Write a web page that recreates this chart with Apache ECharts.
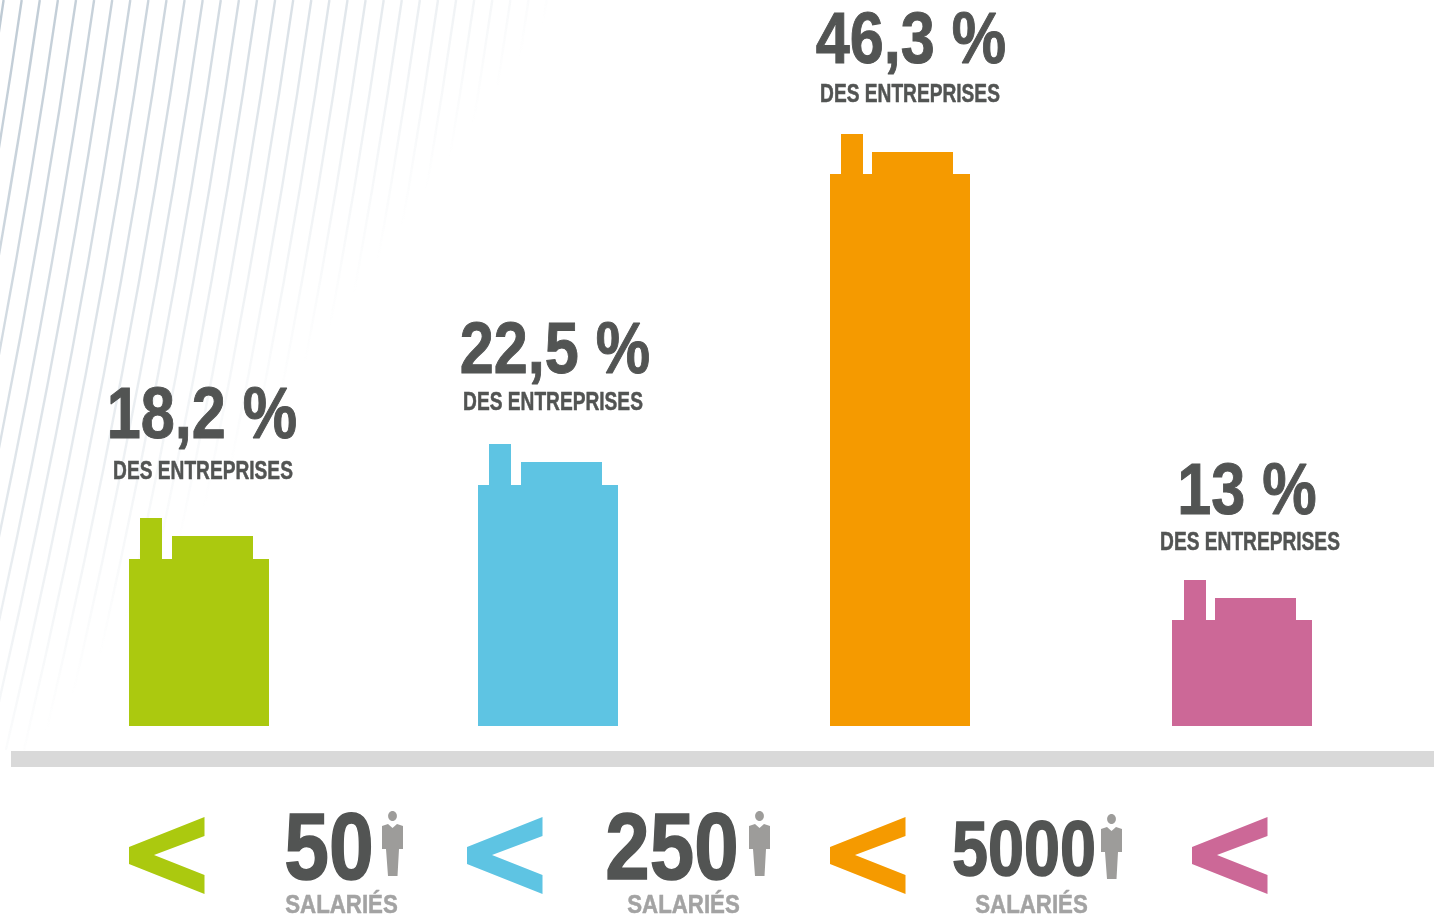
<!DOCTYPE html>
<html>
<head>
<meta charset="utf-8">
<title>Entreprises par taille</title>
<style>
  html, body { margin: 0; padding: 0; background: #fff; }
  #chart { width: 1434px; height: 921px; }
</style>
<script src="https://cdn.jsdelivr.net/npm/echarts@6/dist/echarts.min.js"></script>
</head>
<body>
<div id="chart"></div>
<script>
// data
const categories = ['< 50', '50 - 250', '250 - 5000', '> 5000']
// height of each building as drawn (the picture is not quite to scale with its labels)
const barValues = [16.25, 22.05, 46.25, 11.4]
const percentLabels = ['18,2 %', '22,5 %', '46,3 %', '13 %']
const subLabel = 'DES ENTREPRISES'
const thresholds = ['50', '250', '5000']
const thresholdSub = 'SALARIÉS'

// styles and layout
const barColors = ['#abc90f', '#5ec4e3', '#f59a00', '#cc6897']
const darkText = '#525453'
const greyText = '#a3a3a3'
const personColor = '#9d9c9a'
const font = '"Liberation Sans", sans-serif'
const barNudge = [0, 1.33, 5.67, 0]
const bodyGap = [41, 41, 40, 40]
const chimneyX = [11, 11, 11, 12]
const roofX = [43, 43, 42, 43]
const percentPos = [[202, 413], [555, 348], [911, 38], [1247, 489]]
const subPos = [[203, 470], [553, 401], [910, 93], [1250, 541]]
const chevronX = [129, 467, 830, 1192]
const thresholdPos = [[329, 846, 94, 0.855], [672, 846, 94, 0.85], [1024, 848, 78, 0.83]]
const thresholdSubX = [341.5, 683.5, 1031.5]
const personPos = [[382, 811], [749, 811], [1101, 814]]

const chart = echarts.init(document.getElementById('chart'))

// the narrow bold face of the original is not installed, so the text is squeezed
function condensed(text, x, y, size, scaleX, fill, strokeWidth) {
  return {
    type: 'text',
    x: x,
    y: y + size * 0.07,
    scaleX: scaleX,
    style: {
      x: 0, y: 0, text: text, fill: fill,
      stroke: fill, lineWidth: strokeWidth,
      font: 'bold ' + size + 'px ' + font, align: 'center', verticalAlign: 'middle'
    }
  }
}

function renderBuilding(params, api) {
  const i = params.dataIndex
  const top = api.coord([i, api.value(1)])
  const base = api.coord([i, 0])
  const left = Math.round(top[0] + barNudge[i]) - 70
  const y = Math.round(top[1])
  const gap = bodyGap[i]
  const fill = { fill: barColors[i] }
  return {
    type: 'group',
    children: [
      { type: 'rect', shape: { x: left, y: y + gap, width: 140, height: base[1] - y - gap }, style: fill },
      { type: 'rect', shape: { x: left + chimneyX[i], y: y, width: 22, height: gap + 1 }, style: fill },
      { type: 'rect', shape: { x: left + roofX[i], y: y + 18, width: 81, height: gap - 17 }, style: fill },
      condensed(percentLabels[i], percentPos[i][0], percentPos[i][1], 72, 0.85, darkText, 1),
      condensed(subLabel, subPos[i][0], subPos[i][1], 25, 0.766, darkText, 0.5)
    ]
  }
}

const graphics = []

// faded stripes, top left corner
const stripeColor = new echarts.graphic.LinearGradient(0, 0, 375, 263, [
  { offset: 0, color: 'rgba(190,202,212,1)' },
  { offset: 0.5, color: 'rgba(190,202,212,0.62)' },
  { offset: 1, color: 'rgba(190,202,212,0)' }
], true)
for (let x0 = 3.6; x0 < 570; x0 += 18.1) {
  graphics.push({
    type: 'bezierCurve',
    shape: {
      x1: x0, y1: 0,
      cpx1: x0 - 0.145 * 375, cpy1: 375,
      x2: x0 - 0.145 * 750 - 0.00006 * 750 * 750, y2: 750
    },
    style: { stroke: stripeColor, lineWidth: 2.4, fill: 'none' },
    silent: true
  })
}

// grey ground band
graphics.push({ type: 'rect', shape: { x: 11, y: 751, width: 1423, height: 16 }, style: { fill: '#d9d9d9' } })

// chevrons
chevronX.forEach((x, i) => {
  graphics.push({
    type: 'polygon',
    x: x,
    y: 817,
    shape: { points: [[75.5, 0], [75.5, 19], [25, 38], [75.5, 58], [75.5, 77], [0, 47], [0, 30]] },
    style: { fill: barColors[i] }
  })
})

// thresholds under the band
thresholds.forEach((t, i) => {
  const p = thresholdPos[i]
  graphics.push(condensed(t, p[0], p[1], p[2], p[3], darkText, 1.5))
  graphics.push(condensed(thresholdSub, thresholdSubX[i], 904, 26, 0.856, greyText, 0.5))
  graphics.push({
    type: 'group',
    x: personPos[i][0],
    y: personPos[i][1],
    children: [
      { type: 'ellipse', shape: { cx: 10.5, cy: 5, rx: 4.4, ry: 5 }, style: { fill: personColor } },
      {
        type: 'polygon',
        shape: {
          points: [[0, 15], [6, 13], [10.5, 17], [15, 13], [21, 15], [21, 38], [17, 38],
            [15.5, 65], [6, 65], [4, 38], [0, 38]]
        },
        style: { fill: personColor }
      }
    ]
  })
})

chart.setOption({
  animation: false,
  grid: { left: 25.17, width: 1390.67, top: 86, height: 640 },
  xAxis: { type: 'category', data: categories, show: false },
  yAxis: { type: 'value', min: 0, max: 50, show: false },
  graphic: graphics,
  series: [
    {
      type: 'custom',
      renderItem: renderBuilding,
      encode: { x: 0, y: 1 },
      data: barValues.map((v, i) => [i, v]),
      clip: false
    }
  ]
})
</script>
</body>
</html>
